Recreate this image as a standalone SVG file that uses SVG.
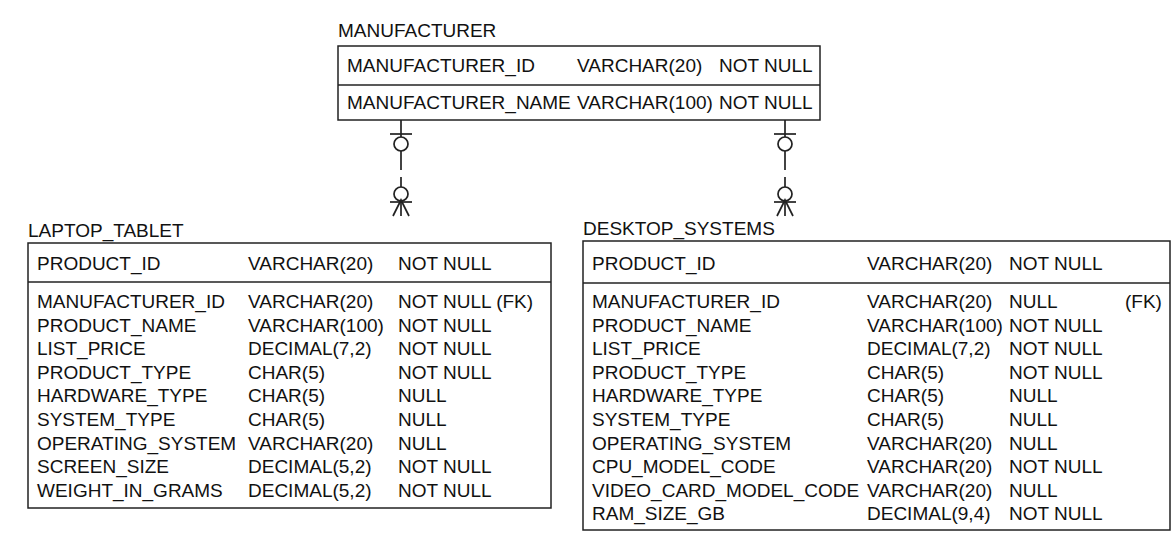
<svg xmlns="http://www.w3.org/2000/svg" width="1174" height="540" viewBox="0 0 1174 540">
<style>
text{font-family:"Liberation Sans",Arial,sans-serif;font-size:19px;fill:#111}
.box{fill:#fff;stroke:#222;stroke-width:1.5}
.div{stroke:#222;stroke-width:1.5}
.c{stroke:#222;stroke-width:1.7;fill:none}
.cc{stroke:#222;stroke-width:1.7;fill:#fff}
</style>
<rect width="1174" height="540" fill="#fff"/>
<g id="connectors">
<g id="rel-laptop">
<line class="c" x1="401" y1="120" x2="401" y2="170"/>
<line class="c" x1="390" y1="134" x2="412" y2="134"/>
<circle class="cc" cx="401" cy="144" r="7"/>
<line class="c" x1="401" y1="177" x2="401" y2="216"/>
<circle class="cc" cx="401" cy="194" r="7"/>
<line class="c" x1="390" y1="202" x2="412" y2="202"/>
<polyline class="c" points="393,216 401,200 409,216"/>
</g>
<g id="rel-desktop">
<line class="c" x1="785" y1="120" x2="785" y2="170"/>
<line class="c" x1="774" y1="134" x2="796" y2="134"/>
<circle class="cc" cx="785" cy="144" r="7"/>
<line class="c" x1="785" y1="177" x2="785" y2="216"/>
<circle class="cc" cx="785" cy="194" r="7"/>
<line class="c" x1="774" y1="202" x2="796" y2="202"/>
<polyline class="c" points="777,216 785,200 793,216"/>
</g>
</g>
<g id="manufacturer">
<text x="338" y="37">MANUFACTURER</text>
<rect class="box" x="338" y="46" width="482" height="74"/>
<line class="div" x1="338" y1="85" x2="820" y2="85"/>
<text x="347" y="72">MANUFACTURER_ID</text><text x="577" y="72">VARCHAR(20)</text><text x="719" y="72">NOT NULL</text>
<text x="347" y="109">MANUFACTURER_NAME</text><text x="577" y="109">VARCHAR(100)</text><text x="719" y="109">NOT NULL</text>
</g>
<g id="laptop_tablet">
<text x="28" y="237">LAPTOP_TABLET</text>
<rect class="box" x="28" y="243" width="523" height="265"/>
<line class="div" x1="28" y1="282" x2="551" y2="282"/>
<text x="37" y="270">PRODUCT_ID</text><text x="248" y="270">VARCHAR(20)</text><text x="398" y="270">NOT NULL</text>
<text x="37" y="308">MANUFACTURER_ID</text><text x="248" y="308">VARCHAR(20)</text><text x="398" y="308">NOT NULL (FK)</text>
<text x="37" y="331.6">PRODUCT_NAME</text><text x="248" y="331.6">VARCHAR(100)</text><text x="398" y="331.6">NOT NULL</text>
<text x="37" y="355.2">LIST_PRICE</text><text x="248" y="355.2">DECIMAL(7,2)</text><text x="398" y="355.2">NOT NULL</text>
<text x="37" y="378.8">PRODUCT_TYPE</text><text x="248" y="378.8">CHAR(5)</text><text x="398" y="378.8">NOT NULL</text>
<text x="37" y="402.4">HARDWARE_TYPE</text><text x="248" y="402.4">CHAR(5)</text><text x="398" y="402.4">NULL</text>
<text x="37" y="426">SYSTEM_TYPE</text><text x="248" y="426">CHAR(5)</text><text x="398" y="426">NULL</text>
<text x="37" y="449.6">OPERATING_SYSTEM</text><text x="248" y="449.6">VARCHAR(20)</text><text x="398" y="449.6">NULL</text>
<text x="37" y="473.2">SCREEN_SIZE</text><text x="248" y="473.2">DECIMAL(5,2)</text><text x="398" y="473.2">NOT NULL</text>
<text x="37" y="496.8">WEIGHT_IN_GRAMS</text><text x="248" y="496.8">DECIMAL(5,2)</text><text x="398" y="496.8">NOT NULL</text>
</g>
<g id="desktop_systems">
<text x="583" y="235">DESKTOP_SYSTEMS</text>
<rect class="box" x="583" y="241" width="587" height="289"/>
<line class="div" x1="583" y1="283" x2="1170" y2="283"/>
<text x="592" y="270">PRODUCT_ID</text><text x="867" y="270">VARCHAR(20)</text><text x="1009" y="270">NOT NULL</text>
<text x="592" y="308">MANUFACTURER_ID</text><text x="867" y="308">VARCHAR(20)</text><text x="1009" y="308">NULL</text><text x="1125" y="308">(FK)</text>
<text x="592" y="331.6">PRODUCT_NAME</text><text x="867" y="331.6">VARCHAR(100)</text><text x="1009" y="331.6">NOT NULL</text>
<text x="592" y="355.2">LIST_PRICE</text><text x="867" y="355.2">DECIMAL(7,2)</text><text x="1009" y="355.2">NOT NULL</text>
<text x="592" y="378.8">PRODUCT_TYPE</text><text x="867" y="378.8">CHAR(5)</text><text x="1009" y="378.8">NOT NULL</text>
<text x="592" y="402.4">HARDWARE_TYPE</text><text x="867" y="402.4">CHAR(5)</text><text x="1009" y="402.4">NULL</text>
<text x="592" y="426">SYSTEM_TYPE</text><text x="867" y="426">CHAR(5)</text><text x="1009" y="426">NULL</text>
<text x="592" y="449.6">OPERATING_SYSTEM</text><text x="867" y="449.6">VARCHAR(20)</text><text x="1009" y="449.6">NULL</text>
<text x="592" y="473.2">CPU_MODEL_CODE</text><text x="867" y="473.2">VARCHAR(20)</text><text x="1009" y="473.2">NOT NULL</text>
<text x="592" y="496.8">VIDEO_CARD_MODEL_CODE</text><text x="867" y="496.8">VARCHAR(20)</text><text x="1009" y="496.8">NULL</text>
<text x="592" y="520.4">RAM_SIZE_GB</text><text x="867" y="520.4">DECIMAL(9,4)</text><text x="1009" y="520.4">NOT NULL</text>
</g>
</svg>
